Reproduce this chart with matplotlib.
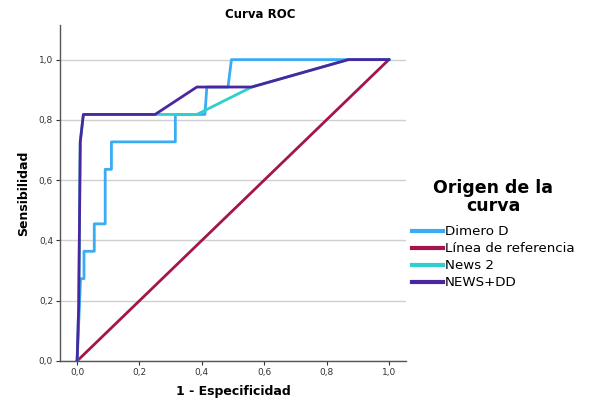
import matplotlib.pyplot as plt
from matplotlib.ticker import FuncFormatter

# Curve points (1 - specificity, sensitivity)
dimero_x = [0.0, 0.011, 0.022, 0.022, 0.055, 0.055, 0.09, 0.09, 0.11, 0.11, 0.315, 0.315, 0.41, 0.416, 0.484, 0.495, 1.0]
dimero_y = [0.0, 0.273, 0.273, 0.364, 0.364, 0.455, 0.455, 0.636, 0.636, 0.727, 0.727, 0.818, 0.818, 0.909, 0.909, 1.0, 1.0]

ref_x = [0.0, 1.0]
ref_y = [0.0, 1.0]

news2_x = [0.0, 0.005, 0.01, 0.02, 0.384, 0.56, 0.87, 1.0]
news2_y = [0.0, 0.18, 0.727, 0.818, 0.818, 0.909, 1.0, 1.0]

newsdd_x = [0.0, 0.005, 0.01, 0.02, 0.25, 0.384, 0.56, 0.87, 1.0]
newsdd_y = [0.0, 0.18, 0.727, 0.818, 0.818, 0.909, 0.909, 1.0, 1.0]

labels = ['Dimero D', 'Línea de referencia', 'News 2', 'NEWS+DD']
colors = ['#3aacf5', '#a3154c', '#2fd0cc', '#4a27a0']
ticks = [0.0, 0.2, 0.4, 0.6, 0.8, 1.0]

def comma_fmt(x, pos):
    return f'{x:.1f}'.replace('.', ',')

fig = plt.figure(figsize=(5.91, 4.01), dpi=100)
ax = fig.add_axes([0.1015, 0.0998, 0.5855, 0.838])

ax.plot(dimero_x, dimero_y, color=colors[0], lw=2, label=labels[0], zorder=3)
ax.plot(ref_x, ref_y, color=colors[1], lw=2, label=labels[1], zorder=2)
ax.plot(news2_x, news2_y, color=colors[2], lw=2, label=labels[2], zorder=3)
ax.plot(newsdd_x, newsdd_y, color=colors[3], lw=2, label=labels[3], zorder=4)

ax.set_xlim(-0.055, 1.055)
ax.set_ylim(0, 1.115)
ax.set_xticks(ticks)
ax.set_yticks(ticks)
ax.xaxis.set_major_formatter(FuncFormatter(comma_fmt))
ax.yaxis.set_major_formatter(FuncFormatter(comma_fmt))
ax.tick_params(labelsize=6.5, colors='#333333', length=3, width=0.8, pad=2)
ax.yaxis.grid(True, color='#d0d0d0', lw=1)
ax.set_axisbelow(True)
for s in ['top', 'right']:
    ax.spines[s].set_visible(False)
for s in ['left', 'bottom']:
    ax.spines[s].set_color('#555555')
    ax.spines[s].set_linewidth(1)

ax.set_xlabel('1 - Especificidad', fontsize=9, fontweight='bold', labelpad=6)
ax.set_ylabel('Sensibilidad', fontsize=9, fontweight='bold', labelpad=6)
fig.text(260 / 591, 1 - 15 / 401, 'Curva ROC', fontsize=8.5, fontweight='bold', ha='center', va='center')

leg = fig.legend(loc='upper left', bbox_to_anchor=(412 / 591, 1 - 179 / 401), frameon=False,
                 title='Origen de la\ncurva', fontsize=9.6, handlelength=2.3,
                 handletextpad=0.15, labelspacing=0.3, borderaxespad=0, borderpad=0)
leg.get_title().set_fontsize(12.5)
leg.get_title().set_fontweight('bold')
leg.get_title().set_multialignment('center')
leg.get_title().set_linespacing(1.0)
leg._legend_box.align = 'center'
leg._legend_box.sep = 7.5
for line in leg.get_lines():
    line.set_linewidth(3)

fig.savefig('out.png', dpi=100)
